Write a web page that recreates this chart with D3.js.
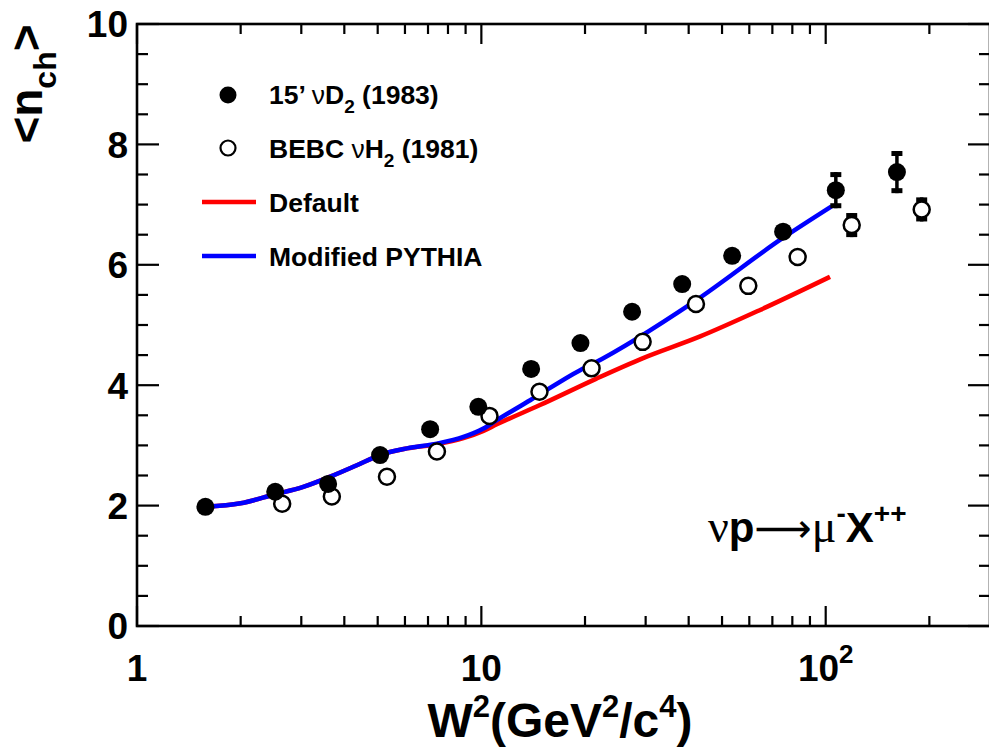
<!DOCTYPE html>
<html>
<head>
<meta charset="utf-8">
<script src="https://cdn.jsdelivr.net/npm/d3@7"></script>
<style>
  html, body { margin: 0; padding: 0; background: #fff; }
  svg { display: block; font-family: "Liberation Sans", Arial, Helvetica, sans-serif; font-weight: bold; }
</style>
</head>
<body>
<script>
// 15' nu D2 (1983), filled points
const d2W2  = [1.58, 2.52, 3.59, 5.08, 7.1, 9.8, 13.95, 19.4, 27.4, 38.3, 53.5, 75.2, 107, 161];
const d2N   = [1.98, 2.23, 2.36, 2.84, 3.27, 3.64, 4.27, 4.70, 5.22, 5.68, 6.15, 6.55, 7.24, 7.54];
const d2Err = [null, null, null, null, null, null, null, null, null, null, null, null, 0.30, 0.35];

// BEBC nu H2 (1981), open points
const h2W2  = [2.64, 3.68, 5.32, 7.43, 10.56, 14.75, 20.9, 29.4, 42.0, 59.6, 82.9, 119, 190];
const h2N   = [2.03, 2.15, 2.48, 2.90, 3.49, 3.89, 4.28, 4.72, 5.35, 5.65, 6.13, 6.66, 6.92];
const h2Err = [null, null, null, null, null, null, null, null, null, null, null, 0.20, 0.20];

// Default PYTHIA curve
const defW2 = [1.58, 2.0, 2.49, 3.04, 3.64, 4.35, 5.08, 6.08, 7.43, 8.87, 10.14, 11.09, 14.8, 21.6, 29.5, 43.2, 64.5, 102.9];
const defN  = [1.98, 2.04, 2.18, 2.31, 2.48, 2.67, 2.84, 2.95, 3.02, 3.12, 3.24, 3.35, 3.67, 4.11, 4.45, 4.81, 5.25, 5.80];

// Modified PYTHIA curve
const modW2 = [1.58, 2.0, 2.49, 3.04, 3.64, 4.35, 5.08, 6.08, 7.43, 8.87, 10.14, 11.09, 13.86, 19.36, 21.15, 41.3, 75.3, 104];
const modN  = [1.98, 2.04, 2.18, 2.31, 2.48, 2.67, 2.84, 2.95, 3.03, 3.14, 3.28, 3.42, 3.75, 4.25, 4.36, 5.38, 6.45, 6.97];

const xMajor = [1, 10, 100];
const xMinor = [2, 3, 4, 5, 6, 7, 8, 9, 20, 30, 40, 50, 60, 70, 80, 90, 200];
const yMajor = [0, 2, 4, 6, 8, 10];
const yMinor = d3.range(0, 10.01, 0.5).filter(v => v % 2 !== 0);

const width = 989, height = 755;
const x = d3.scaleLog().domain([1, 300]).range([137, 990]);
const y = d3.scaleLinear().domain([0, 10]).range([626, 24]);

const svg = d3.select("body").append("svg")
    .attr("width", width)
    .attr("height", height);

svg.append("rect").attr("width", width).attr("height", height).attr("fill", "#fff");

// ticks on all four sides
const ticks = svg.append("g").attr("stroke", "#000").attr("stroke-width", 2.2);
const [x0, x1] = x.range(), [y0, y1] = y.range();
xMajor.concat(xMinor).forEach(v => {
  const len = xMajor.includes(v) ? 20 : 10;
  ticks.append("line").attr("x1", x(v)).attr("x2", x(v)).attr("y1", y0).attr("y2", y0 - len);
  ticks.append("line").attr("x1", x(v)).attr("x2", x(v)).attr("y1", y1).attr("y2", y1 + len);
});
yMajor.concat(yMinor).forEach(v => {
  const len = yMajor.includes(v) ? 22 : 11;
  ticks.append("line").attr("x1", x0).attr("x2", x0 + len).attr("y1", y(v)).attr("y2", y(v));
  ticks.append("line").attr("x1", x1).attr("x2", x1 - len).attr("y1", y(v)).attr("y2", y(v));
});

svg.append("rect")
    .attr("x", x0).attr("y", y1)
    .attr("width", x1 - x0).attr("height", y0 - y1)
    .attr("fill", "none").attr("stroke", "#000").attr("stroke-width", 2.6);

// tick labels
svg.append("g").selectAll("text")
  .data(yMajor)
  .enter().append("text")
    .attr("x", 128)
    .attr("y", d => y(d))
    .attr("dy", "0.36em")
    .attr("text-anchor", "end")
    .style("font-size", "37px")
    .text(d => d);

const xl = svg.append("g").style("font-size", "37px").attr("text-anchor", "middle");
xl.append("text").attr("x", x(1)).attr("y", 681).text("1");
xl.append("text").attr("x", x(10)).attr("y", 681).text("10");
const t100 = xl.append("text").attr("x", x(100)).attr("y", 681);
t100.append("tspan").text("10");
t100.append("tspan").attr("dy", -18).style("font-size", "26px").text("2");

// axis titles
const xt = svg.append("text")
    .attr("x", 560).attr("y", 737)
    .attr("text-anchor", "middle")
    .style("font-size", "48px");
xt.append("tspan").text("W");
xt.append("tspan").attr("dy", -20).style("font-size", "31px").text("2");
xt.append("tspan").attr("dy", 20).text("(GeV");
xt.append("tspan").attr("dy", -20).style("font-size", "31px").text("2");
xt.append("tspan").attr("dy", 20).text("/c");
xt.append("tspan").attr("dy", -20).style("font-size", "31px").text("4");
xt.append("tspan").attr("dy", 20).text(")");

const yt = svg.append("text")
    .attr("transform", "translate(42,84) rotate(-90)")
    .attr("text-anchor", "middle")
    .style("font-size", "46px");
yt.append("tspan").text("<n");
yt.append("tspan").attr("dy", 14).style("font-size", "32px").text("ch");
yt.append("tspan").attr("dy", -14).text(">");

// model curves
const line = d3.line()
    .x(d => x(d[0]))
    .y(d => y(d[1]))
    .curve(d3.curveMonotoneX);

svg.append("path")
    .datum(d3.zip(defW2, defN))
    .attr("d", line)
    .attr("fill", "none")
    .attr("stroke", "#f00")
    .attr("stroke-width", 4.5);

svg.append("path")
    .datum(d3.zip(modW2, modN))
    .attr("d", line)
    .attr("fill", "none")
    .attr("stroke", "#00f")
    .attr("stroke-width", 4.5);

// error bars
function errorBars(xs, ys, es) {
  const g = svg.append("g").attr("stroke", "#000");
  xs.forEach((v, i) => {
    if (es[i] == null) return;
    const cx = x(v), top = y(ys[i] + es[i]), bot = y(ys[i] - es[i]);
    g.append("line").attr("x1", cx).attr("x2", cx).attr("y1", top).attr("y2", bot).attr("stroke-width", 3.5);
    g.append("line").attr("x1", cx - 5.5).attr("x2", cx + 5.5).attr("y1", top + 2.5).attr("y2", top + 2.5).attr("stroke-width", 5);
    g.append("line").attr("x1", cx - 5.5).attr("x2", cx + 5.5).attr("y1", bot - 2.5).attr("y2", bot - 2.5).attr("stroke-width", 5);
  });
}
errorBars(d2W2, d2N, d2Err);
errorBars(h2W2, h2N, h2Err);

// data points
svg.append("g").selectAll("circle")
  .data(d3.zip(h2W2, h2N))
  .enter().append("circle")
    .attr("cx", d => x(d[0]))
    .attr("cy", d => y(d[1]))
    .attr("r", 8)
    .attr("fill", "#fff")
    .attr("stroke", "#000")
    .attr("stroke-width", 2.5);

svg.append("g").selectAll("circle")
  .data(d3.zip(d2W2, d2N))
  .enter().append("circle")
    .attr("cx", d => x(d[0]))
    .attr("cy", d => y(d[1]))
    .attr("r", 9)
    .attr("fill", "#000");

// legend
const legend = svg.append("g").style("font-size", "26.5px");
legend.append("circle").attr("cx", 228).attr("cy", 95).attr("r", 8.5).attr("fill", "#000");
const l1 = legend.append("text").attr("x", 269).attr("y", 104);
l1.append("tspan").text("15’ ");
l1.append("tspan").style("font-weight", "normal").text("ν");
l1.append("tspan").text("D");
l1.append("tspan").attr("dy", 9).style("font-size", "19px").text("2");
l1.append("tspan").attr("dy", -9).text(" (1983)");

legend.append("circle").attr("cx", 228).attr("cy", 148).attr("r", 7.5)
    .attr("fill", "#fff").attr("stroke", "#000").attr("stroke-width", 2.2);
const l2 = legend.append("text").attr("x", 269).attr("y", 158);
l2.append("tspan").text("BEBC ");
l2.append("tspan").style("font-weight", "normal").text("ν");
l2.append("tspan").text("H");
l2.append("tspan").attr("dy", 9).style("font-size", "19px").text("2");
l2.append("tspan").attr("dy", -9).text(" (1981)");

legend.append("line").attr("x1", 202).attr("x2", 256).attr("y1", 202).attr("y2", 202)
    .attr("stroke", "#f00").attr("stroke-width", 4.5);
legend.append("text").attr("x", 269).attr("y", 212).text("Default");

legend.append("line").attr("x1", 202).attr("x2", 256).attr("y1", 256).attr("y2", 256)
    .attr("stroke", "#00f").attr("stroke-width", 4.5);
legend.append("text").attr("x", 269).attr("y", 266).text("Modified PYTHIA");

// process label
const serif = "'Liberation Serif', 'DejaVu Serif', serif";
const proc = svg.append("text").attr("x", 708).attr("y", 542).style("font-size", "42px");
proc.append("tspan").style("font-weight", "normal").style("font-family", serif).style("font-size", "46px").text("ν");
proc.append("tspan").text("p");
proc.append("tspan").style("font-weight", "normal").style("font-family", "'DejaVu Sans', sans-serif").style("font-size", "40px").text("⟶");
proc.append("tspan").style("font-weight", "normal").style("font-family", serif).style("font-size", "46px").text("μ");
proc.append("tspan").attr("dy", -19).style("font-size", "28px").text("-");
proc.append("tspan").attr("dy", 19).text("X");
proc.append("tspan").attr("dy", -19).style("font-size", "28px").text("++");
</script>
</body>
</html>
